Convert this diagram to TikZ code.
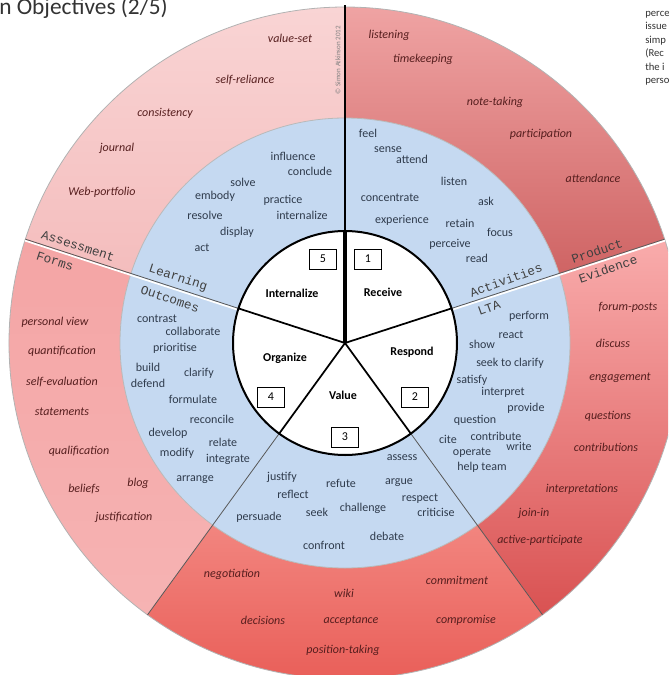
\documentclass[tikz,border=0pt]{standalone}
\usepackage{fontspec}
\setmainfont{Carlito}
\setmonofont{Liberation Mono}
\usetikzlibrary{positioning}
\definecolor{RingBlue}{HTML}{C5D9F1}
\definecolor{InkBlue}{HTML}{2F3B4C}
\definecolor{InkRed}{HTML}{561E1E}
\definecolor{PinkLight}{HTML}{F9D4D4}
\definecolor{PinkLightDk}{HTML}{F4BDBD}
\definecolor{RoseTop}{HTML}{EFA3A3}
\definecolor{RoseBot}{HTML}{CF6464}
\definecolor{SalmonTop}{HTML}{F9ACAC}
\definecolor{SalmonBot}{HTML}{D95252}
\definecolor{CoralTop}{HTML}{F2857F}
\definecolor{CoralBot}{HTML}{E85A54}
\definecolor{PinkMid}{HTML}{F4A5A5}
\definecolor{PinkMidLt}{HTML}{F6B3B3}
\tikzset{
  verb/.style={font=\fontsize{9}{10}\selectfont, text=InkBlue, inner sep=1pt},
  evid/.style={font=\fontsize{9}{10}\selectfont\itshape, text=InkRed, inner sep=1pt},
  levelname/.style={font=\fontsize{9}{10}\selectfont\bfseries, inner sep=1pt},
  numbox/.style={draw, line width=0.6pt, minimum width=20pt, minimum height=15pt, inner sep=0pt, font=\fontsize{9}{10}\selectfont},
  ringlabel/.style={font=\fontsize{9.5}{10}\selectfont\ttfamily, text=black!75, inner sep=0pt},
  sidetext/.style={font=\fontsize{8}{9}\selectfont, text=black!80, inner sep=0pt, anchor=base west},
  spoke/.style={line width=1.3pt},
  seam/.style={draw=gray!70!black, line width=0.6pt},
  glint/.style={draw=white, line width=1.3pt}
}
\begin{document}
\begin{tikzpicture}[x=0.75pt, y=-0.75pt]
  \useasboundingbox (0,0) rectangle (668,675);
  \clip (0,0) rectangle (668,675);

  % rings round the centre
  \begin{scope}[shift={(345,343)}, yscale=-1]
    \shade[top color=PinkLight, bottom color=PinkLightDk]
      (90:336) arc[start angle=90, end angle=162, radius=336] -- (162:225) arc[start angle=162, end angle=90, radius=225] -- cycle;
    \shade[top color=RoseTop, bottom color=RoseBot]
      (18:336) arc[start angle=18, end angle=90, radius=336] -- (90:225) arc[start angle=90, end angle=18, radius=225] -- cycle;
    \shade[top color=SalmonTop, bottom color=SalmonBot]
      (-54:336) arc[start angle=-54, end angle=18, radius=336] -- (18:225) arc[start angle=18, end angle=-54, radius=225] -- cycle;
    \shade[top color=CoralTop, bottom color=CoralBot]
      (234:336) arc[start angle=234, end angle=306, radius=336] -- (306:225) arc[start angle=306, end angle=234, radius=225] -- cycle;
    \shade[top color=PinkMid, bottom color=PinkMidLt]
      (162:336) arc[start angle=162, end angle=234, radius=336] -- (234:225) arc[start angle=234, end angle=162, radius=225] -- cycle;
    \draw[gray!60, line width=0.6pt] (0,0) circle[radius=336];
    \fill[RingBlue] (0,0) circle[radius=225];
    \draw[gray!55, line width=0.6pt] (0,0) circle[radius=225];
    % seams between the sectors
    \draw[glint, shift={(252:1.5)}] (162:112) -- (162:336);
    \draw[seam] (162:112) -- (162:336);
    \draw[glint, shift={(288:1.5)}] (18:112) -- (18:336);
    \draw[seam] (18:112) -- (18:336);
    \draw[seam] (234:112) -- (234:336);
    \draw[seam] (306:112) -- (306:336);
    % the pie
    \fill[white] (0,0) circle[radius=112];
    \foreach \a in {18,162,234,306}
      \draw[spoke] (0,0) -- (\a:112);
    \draw[line width=1.4pt] (0,0) -- (90:338);
    \draw[line width=2.4pt] (0,0) -- (90:112);
    \draw[line width=1.5pt] (0,0) circle[radius=112];
  \end{scope}

  % levels
  \node[levelname] (receive) at (383,292) {Receive};
  \node[levelname] (respond) at (412,352) {Respond};
  \node[levelname] (value) at (343,395) {Value};
  \node[levelname] (organize) at (285,358) {Organize};
  \node[levelname] (internalize) at (292,293) {Internalize};
  \node[numbox] (n1) at (368,259) {1};
  \node[numbox] (n2) at (415,397) {2};
  \node[numbox] (n3) at (345,437) {3};
  \node[numbox] (n4) at (271,397) {4};
  \node[numbox] (n5) at (323,259) {5};

  % learning outcomes
  \foreach \t/\x/\y [count=\i] in {
      influence/293/156, conclude/310/171, solve/243/182, embody/215/196,
      practice/283/200, resolve/205/215, internalize/302/215, display/237/232, act/202/248,
      feel/368/133, sense/388/150, attend/412/159, listen/454/181, concentrate/390/198,
      ask/486/201, experience/402/220, retain/460/223, focus/500/232, perceive/450/244, read/477/258,
      perform/529/316, react/511/335, show/482/344, seek to clarify/510/363, satisfy/472/380,
      interpret/503/392, provide/526/408, question/475/420, cite/448/439, contribute/496/436,
      write/519/446, operate/472/453, help team/482/467,
      assess/402/458, argue/399/483, respect/420/499, criticise/436/512, challenge/363/508,
      refute/341/483, debate/387/536, confront/324/545, seek/317/512, justify/282/477,
      reflect/293/494, persuade/259/517,
      contrast/157/319, collaborate/193/331, prioritise/175/348, build/148/367, clarify/199/373,
      defend/148/383, formulate/193/399, reconcile/212/419, develop/168/433, relate/223/442,
      modify/177/453, integrate/228/459, arrange/195/480}
    \node[verb] (verb\i) at (\x,\y) {\t};

  % product evidence and assessment forms
  \foreach \t/\x/\y [count=\i] in {
      value-set/290/38, self-reliance/245/80, consistency/165/113, journal/117/148, Web-portfolio/102/192,
      listening/389/35, timekeeping/423/59, note-taking/495/102, participation/541/134, attendance/593/178,
      forum-posts/628/307, discuss/613/343, engagement/620/378, questions/608/416, contributions/606/447,
      interpretations/582/489, join-in/534/513, active-participate/540/540,
      commitment/457/580, compromise/466/620, wiki/344/593, acceptance/351/621,
      position-taking/343/650, decisions/263/620, negotiation/232/574,
      personal view/55/322, quantification/62/351, self-evaluation/62/382, statements/62/412,
      qualification/79/451, beliefs/84/489, blog/138/483, justification/124/517}
    \node[evid] (evid\i) at (\x,\y) {\t};

  % labels on the seams
  \node[ringlabel, rotate=-18] (assess) at (78,246) {Assessment};
  \node[ringlabel, rotate=-18] (forms) at (55,261) {Forms};
  \node[ringlabel, rotate=-18] (learning) at (178,278) {Learning};
  \node[ringlabel, rotate=-18] (outcomes) at (170,299) {Outcomes};
  \node[ringlabel, rotate=20] (activities) at (506,280) {Activities};
  \node[ringlabel, rotate=20] (lta) at (489,308) {LTA};
  \node[ringlabel, rotate=19] (product) at (597,251) {Product};
  \node[ringlabel, rotate=19] (evidence) at (608,269) {Evidence};

  \node[rotate=90, font=\fontsize{5.3}{6}\selectfont, text=gray, inner sep=0pt] (copy) at (338,60) {© Simon Atkinson 2012};

  % slide fragments
  \node[anchor=base west, inner sep=0pt, font=\fontsize{17.5}{20}\selectfont, text=black!80] (title) at (-1,14) {n Objectives (2/5)};
  \node[sidetext] (side1) at (645,16) {perce};
  \node[sidetext] (side2) at (645,29.5) {issue};
  \node[sidetext] (side3) at (645,43) {simp};
  \node[sidetext] (side4) at (645,56.5) {(Rec};
  \node[sidetext] (side5) at (645,70) {the i};
  \node[sidetext] (side6) at (645,83.5) {perso};
\end{tikzpicture}
\end{document}
